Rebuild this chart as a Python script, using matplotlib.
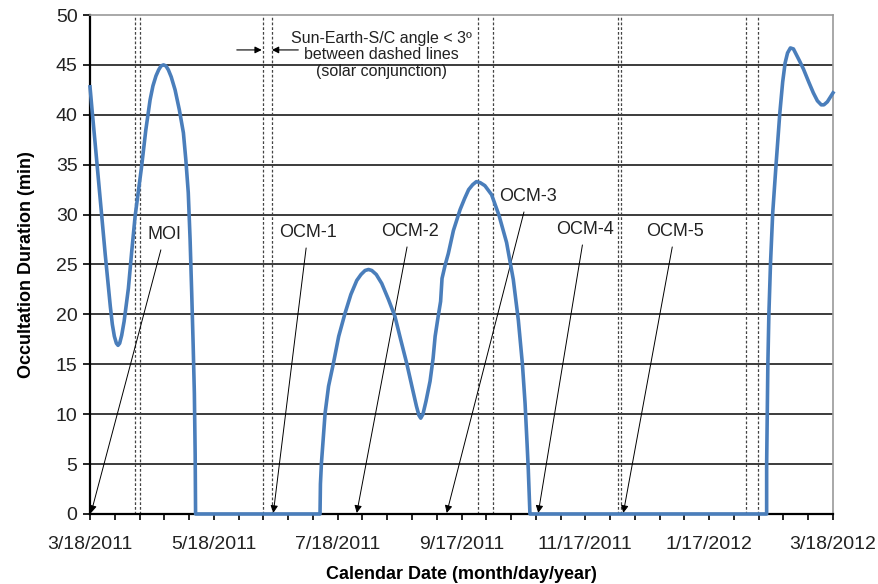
import matplotlib.pyplot as plt
import numpy as np

plt.rcParams['font.family'] = ['Liberation Sans', 'DejaVu Sans']

# days since 3/18/2011 and occultation duration (min)
days = [0, 1, 2.5, 5, 7.5, 10, 11, 12, 13, 13.8, 14.6, 15.6, 16.8, 18.9,
        20.5, 22.2, 25.4, 27.5, 29.6, 31, 32.5, 33.8, 35, 36.2, 37.4, 38.6,
        40, 41.9, 44, 46, 47.2, 48.4, 49.3, 50.1, 50.8, 51.4, 51.8, 52,
        113.3, 113.5, 114, 115.8, 117.5, 119.9, 122.5, 125.6, 128.5, 131.4,
        133.5, 135.5, 137.2, 138.8, 141, 143.7, 147, 150.2, 153, 156, 159,
        160.8, 162, 162.9, 164, 165.5, 167.5, 169, 170, 171.5, 172.7, 173.4,
        175, 176.5, 179, 182.3, 184.5, 186.5, 188.5, 190.3, 192.2, 194.5,
        197.8, 201.5, 205.2, 208.5, 211, 213, 214.3, 215.3, 215.9, 216.7,
        333.3, 333.3, 333.6, 333.9, 334.4, 335.2, 336.3, 338.0, 339.8, 341.2,
        342.4, 343.6, 345, 346.5, 348, 349.5, 351.4, 354, 356.3, 358.3,
        360.2, 361.5, 363.2, 366]
minutes = [42.8, 40.5, 37.2, 31.6, 26.0, 20.8, 19.0, 17.8, 17.1, 16.9, 17.1,
           17.9, 19.3, 22.6, 26.2, 29.8, 34.8, 38.5, 41.5, 42.9, 43.9, 44.5,
           44.9, 45.0, 44.9, 44.5, 43.8, 42.5, 40.5, 38.2, 35.5, 32.2, 27.5,
           22.1, 17.0, 12.1, 6.0, 0,
           0, 3.0, 5.1, 10.1, 12.8, 15.1, 17.8, 20.1, 22.0, 23.4, 24.0, 24.4,
           24.5, 24.4, 24.0, 23.1, 21.5, 19.8, 17.5, 15.1, 12.4, 10.8, 9.9,
           9.6, 10.0, 11.3, 13.3, 15.6, 17.8, 19.8, 21.3, 23.6, 25.0, 26.1,
           28.4, 30.5, 31.6, 32.5, 33.0, 33.3, 33.2, 32.9, 32.0, 29.9, 27.2,
           23.5, 19.4, 15.0, 11.1, 7.0, 4.4, 0,
           0, 5.0, 10.0, 15.0, 20.0, 25.1, 30.2, 35.2, 40.2, 43.3, 45.2, 46.2,
           46.7, 46.6, 46.0, 45.4, 44.6, 43.3, 42.2, 41.4, 41.0, 41.0, 41.3,
           42.2]

# solar conjunction windows (dashed line pairs), days since 3/18/2011
conj_start = [22.2, 85.0, 191.1, 259.9, 323.2]
conj_end = [24.6, 89.7, 198.5, 261.8, 328.9]

# maneuver labels: text position and the day the arrow points to
events = ['MOI', 'OCM-1', 'OCM-2', 'OCM-3', 'OCM-4', 'OCM-5']
event_day = [0.5, 90.3, 131.4, 175.7, 220.8, 262.7]
label_day = [36.9, 107.4, 157.6, 215.7, 243.8, 288.2]
label_val = [28.0, 28.2, 28.3, 31.8, 28.5, 28.3]

tick_days = [0, 61, 122, 183, 244, 305, 366]
tick_labels = ['3/18/2011', '5/18/2011', '7/18/2011', '9/17/2011',
               '11/17/2011', '1/17/2012', '3/18/2012']

fig = plt.figure(figsize=(8.79, 5.84), dpi=100)
ax = fig.add_axes([0.1024, 0.1199, 0.8453, 0.8544])

# horizontal grid
for v in range(5, 50, 5):
    ax.axhline(v, color='#1a1a1a', lw=1.2, zorder=1)

# conjunction dashed lines
for a, b in zip(conj_start, conj_end):
    for d in (a, b):
        ax.axvline(d, color='#444444', lw=0.9, ls=(0, (2.2, 1.6)), zorder=1.5)

ax.plot(days, minutes, color='#4A7EBB', lw=2.6, zorder=4, clip_on=False,
        solid_joinstyle='round')

for name, xd, lx, ly in zip(events, event_day, label_day, label_val):
    ax.annotate(name, xy=(xd, 0.1), xytext=(lx, ly), ha='center', va='center',
                fontsize=13, color='#222222',
                arrowprops=dict(arrowstyle='-|>', color='black', lw=0.7,
                                mutation_scale=11, shrinkA=3, shrinkB=0))

# solar conjunction note
ax.text(143.7, 46.0, 'Sun-Earth-S/C angle < 3º\nbetween dashed lines\n(solar conjunction)',
        ha='center', va='center', fontsize=11.5, color='#222222', linespacing=1.15)
ax.annotate('', xy=(84.6, 46.5), xytext=(72.3, 46.5),
            arrowprops=dict(arrowstyle='-|>', color='black', lw=0.8, mutation_scale=10,
                            shrinkA=0, shrinkB=0))
ax.annotate('', xy=(89.6, 46.5), xytext=(102.6, 46.5),
            arrowprops=dict(arrowstyle='-|>', color='black', lw=0.8, mutation_scale=10,
                            shrinkA=0, shrinkB=0))

ax.set_xlim(0, 366)
ax.set_ylim(0, 50)
ax.set_xticks(tick_days)
ax.set_xticklabels(tick_labels)
ax.set_xticks(np.arange(0, 367, 12.2), minor=True)
ax.set_yticks(range(0, 51, 5))
ax.tick_params(axis='x', which='both', direction='out', length=4, width=1.2,
               color='black', labelsize=14, pad=12, labelcolor='#222222')
ax.tick_params(axis='y', direction='out', length=5, width=1.2, color='black',
               labelsize=14, pad=4, labelcolor='#222222')

for s in ('left', 'bottom'):
    ax.spines[s].set_color('black')
    ax.spines[s].set_linewidth(1.6)
for s in ('top', 'right'):
    ax.spines[s].set_color('#999999')
    ax.spines[s].set_linewidth(1.2)

ax.set_xlabel('Calendar Date (month/day/year)', fontsize=13, fontweight='bold',
              labelpad=9)
ax.set_ylabel('Occultation Duration (min)', fontsize=13, fontweight='bold',
              labelpad=15)

fig.savefig('out.png', dpi=100)
